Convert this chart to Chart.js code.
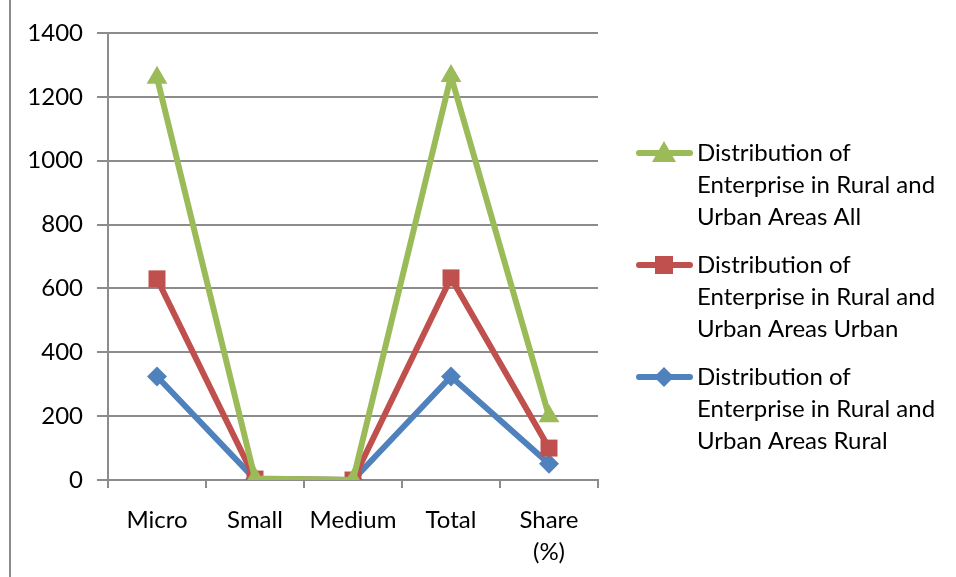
<!DOCTYPE html>
<html>
<head>
<meta charset="utf-8">
<script src="https://cdn.jsdelivr.net/npm/chart.js@4.4.0/dist/chart.umd.min.js"></script>
<style>
  html, body { margin: 0; padding: 0; background: #fff; }
  #wrap { width: 956px; height: 577px; position: relative; }
</style>
</head>
<body>
<div id="wrap"><canvas id="myChart" width="956" height="577"></canvas></div>
<script>
const categories = ['Micro', 'Small', 'Medium', 'Total', ['Share', '(%)']];
const allValues = [1260, 5, 0, 1265, 200];
const urbanValues = [630, 3, 0, 633, 100];
const ruralValues = [324, 2, 0, 324, 51];
const yTicks = [0, 200, 400, 600, 800, 1000, 1200, 1400];

const FONT = 'Lato, "Open Sans", sans-serif';
const FSIZE = 24;
const GRID = '#8c8c8c';

// legend drawn by hand so labels can wrap onto three lines
const sideLegend = {
  id: 'sideLegend',
  afterDraw(chart) {
    const c = chart.ctx;
    c.save();
    // thin frame line on the left
    c.strokeStyle = '#8c8c8c';
    c.lineWidth = 2;
    c.beginPath(); c.moveTo(10, 0); c.lineTo(10, 577); c.stroke();

    c.font = FSIZE + 'px ' + FONT;
    c.textBaseline = 'middle';
    chart.data.datasets.forEach((ds, i) => {
      const y0 = 153 + i * 112;
      c.strokeStyle = ds.borderColor;
      c.lineWidth = 6;
      c.lineCap = 'round';
      c.beginPath(); c.moveTo(639, y0); c.lineTo(690, y0); c.stroke();
      c.fillStyle = ds.backgroundColor;
      const mx = 664, r = ds.pointRadius;
      c.beginPath();
      if (ds.pointStyle === 'triangle') {
        c.moveTo(mx, y0 - r); c.lineTo(mx + r, y0 + r * 0.75); c.lineTo(mx - r, y0 + r * 0.75);
      } else if (ds.pointStyle === 'rect') {
        c.rect(mx - r * 0.75, y0 - r * 0.75, r * 1.5, r * 1.5);
      } else {
        c.moveTo(mx, y0 - r); c.lineTo(mx + r, y0); c.lineTo(mx, y0 + r); c.lineTo(mx - r, y0);
      }
      c.closePath(); c.fill();

      // greedy word wrap
      const words = ds.label.split(' ');
      const lines = [];
      let cur = '';
      words.forEach(w => {
        const t = cur ? cur + ' ' + w : w;
        if (c.measureText(t).width > 256 && cur) { lines.push(cur); cur = w; } else { cur = t; }
      });
      lines.push(cur);
      c.fillStyle = '#000';
      c.textAlign = 'left';
      lines.forEach((ln, k) => c.fillText(ln, 697, y0 + k * 32));
    });
    c.restore();
  }
};

const ctx = document.getElementById('myChart').getContext('2d');
const chart = new Chart(ctx, {
  type: 'line',
  data: {
    labels: categories,
    datasets: [{
      label: 'Distribution of Enterprise in Rural and Urban Areas All',
      data: allValues,
      borderColor: '#9BBB59',
      backgroundColor: '#9BBB59',
      borderWidth: 6,
      pointStyle: 'triangle',
      pointRadius: 12,
      pointBorderWidth: 0
    }, {
      label: 'Distribution of Enterprise in Rural and Urban Areas Urban',
      data: urbanValues,
      borderColor: '#C0504D',
      backgroundColor: '#C0504D',
      borderWidth: 6,
      pointStyle: 'rect',
      pointRadius: 12,
      pointBorderWidth: 0
    }, {
      label: 'Distribution of Enterprise in Rural and Urban Areas Rural',
      data: ruralValues,
      borderColor: '#4F81BD',
      backgroundColor: '#4F81BD',
      borderWidth: 6,
      pointStyle: 'rectRot',
      pointRadius: 10,
      pointBorderWidth: 0
    }]
  },
  options: {
    responsive: false,
    animation: false,
    layout: { padding: { left: 0, right: 358, top: 33, bottom: 0 } },
    plugins: { legend: { display: false }, tooltip: { enabled: false } },
    scales: {
      x: {
        offset: true,
        grid: { offset: true, drawOnChartArea: false, drawTicks: true, tickLength: 8, color: GRID, lineWidth: 2 },
        border: { color: GRID, width: 2 },
        ticks: { color: '#000', font: { family: FONT, size: FSIZE, lineHeight: 1.35 }, padding: 16, maxRotation: 0 },
        afterFit(scale) { scale.height = 97; }
      },
      y: {
        min: 0,
        max: 1400,
        afterBuildTicks(scale) { scale.ticks = yTicks.map(v => ({ value: v })); },
        grid: { color: GRID, lineWidth: 2, tickLength: 11 },
        border: { color: GRID, width: 2 },
        ticks: { color: '#000', font: { family: FONT, size: FSIZE }, padding: 14, callback: v => String(v) },
        afterFit(scale) { scale.width = 108; }
      }
    }
  },
  plugins: [sideLegend]
});
</script>
</body>
</html>
